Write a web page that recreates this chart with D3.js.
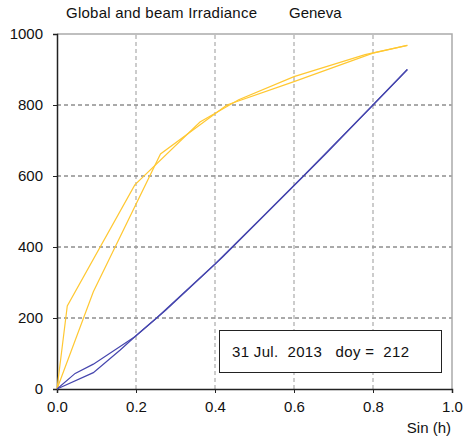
<!DOCTYPE html>
<html>
<head>
<meta charset="utf-8">
<script src="https://cdn.jsdelivr.net/npm/d3@7"></script>
<style>
  body { margin: 0; background: #fff; }
  svg { display: block; font-family: "Liberation Sans", Arial, sans-serif; }
</style>
</head>
<body>
<svg id="chart" width="464" height="441"></svg>
<script>
// sin(h) vs irradiance [W/m2], morning and afternoon branches
var globalAM = [[0,0],[0.026,234],[0.197,575],[0.362,752],[0.46,815],[0.6,880],[0.78,942],[0.887,968]];
var globalPM = [[0,0],[0.092,274],[0.262,662],[0.43,800],[0.6,866],[0.8,946],[0.887,968]];
var beamAM = [[0,0],[0.046,44],[0.092,70],[0.197,147],[0.25,198],[0.4,352],[0.52,485],[0.63,607],[0.74,732],[0.8,800],[0.887,900]];
var beamPM = [[0,0],[0.092,46],[0.16,110],[0.197,147],[0.275,222],[0.42,372],[0.56,528],[0.68,662],[0.8,800],[0.887,900]];

var xTicks = [0, 0.2, 0.4, 0.6, 0.8, 1.0];
var yTicks = [0, 200, 400, 600, 800, 1000];

var title = "Global and beam Irradiance";
var place = "Geneva";
var dateLabel = "31 Jul.  2013   doy =  212";
var xLabel = "Sin (h)";

var svg = d3.select("#chart");
var x = d3.scaleLinear().domain([0, 1]).range([57, 452]);
var y = d3.scaleLinear().domain([0, 1000]).range([389, 34]);

// grid
svg.append("g").selectAll("line")
  .data(yTicks.slice(1, -1))
  .enter().append("line")
  .attr("x1", x(0)).attr("x2", x(1))
  .attr("y1", function(d){ return y(d); }).attr("y2", function(d){ return y(d); })
  .attr("stroke", "#555").attr("stroke-dasharray", "4,3");

svg.append("g").selectAll("line")
  .data(xTicks.slice(1, -1))
  .enter().append("line")
  .attr("y1", y(0)).attr("y2", y(1000))
  .attr("x1", function(d){ return x(d); }).attr("x2", function(d){ return x(d); })
  .attr("stroke", "#999").attr("stroke-dasharray", "4,3");

// frame top/right
svg.append("path")
  .attr("d", "M" + x(0) + "," + y(1000) + "H" + x(1) + "V" + y(0))
  .attr("fill", "none").attr("stroke", "#aaa").attr("stroke-width", 1.5);

// axes
var yAxis = svg.append("g").attr("transform", "translate(" + x(0) + ",0)")
  .call(d3.axisLeft(y).tickValues(yTicks).tickSize(4).tickPadding(10).tickFormat(d3.format("d")));
var xAxis = svg.append("g").attr("transform", "translate(0," + y(0) + ")")
  .call(d3.axisBottom(x).tickValues(xTicks).tickSize(4).tickPadding(8).tickFormat(d3.format(".1f")));
[yAxis, xAxis].forEach(function(a){
  a.select(".domain").attr("stroke", "#222").attr("stroke-width", 1.5);
  a.selectAll(".tick line").attr("stroke", "#222");
  a.selectAll("text").attr("font-size", 15).attr("fill", "#111")
    .attr("font-family", "Liberation Sans, Arial, sans-serif");
});

// curves
var line = d3.line().x(function(d){ return x(d[0]); }).y(function(d){ return y(d[1]); });
[[globalAM, "#ffc832"], [globalPM, "#ffc832"], [beamAM, "#4646ae"], [beamPM, "#4646ae"]].forEach(function(s){
  svg.append("path").datum(s[0]).attr("d", line)
    .attr("fill", "none").attr("stroke", s[1]).attr("stroke-width", 1.2);
});

// text
svg.append("text").attr("x", 66).attr("y", 18).attr("font-size", 15).attr("fill", "#111")
  .attr("textLength", 191).text(title);
svg.append("text").attr("x", 289).attr("y", 18).attr("font-size", 15).attr("fill", "#111").text(place);
svg.append("text").attr("x", 451).attr("y", 433).attr("text-anchor", "end").attr("font-size", 15).attr("fill", "#111").text(xLabel);

// date box
svg.append("rect").attr("x", 219.5).attr("y", 330.5).attr("width", 222).attr("height", 42)
  .attr("fill", "#fff").attr("stroke", "#222").attr("stroke-width", 1);
svg.append("text").attr("x", 232).attr("y", 357).attr("font-size", 15).attr("fill", "#111")
  .style("white-space", "pre").attr("textLength", 177).text(dateLabel);
</script>
</body>
</html>
